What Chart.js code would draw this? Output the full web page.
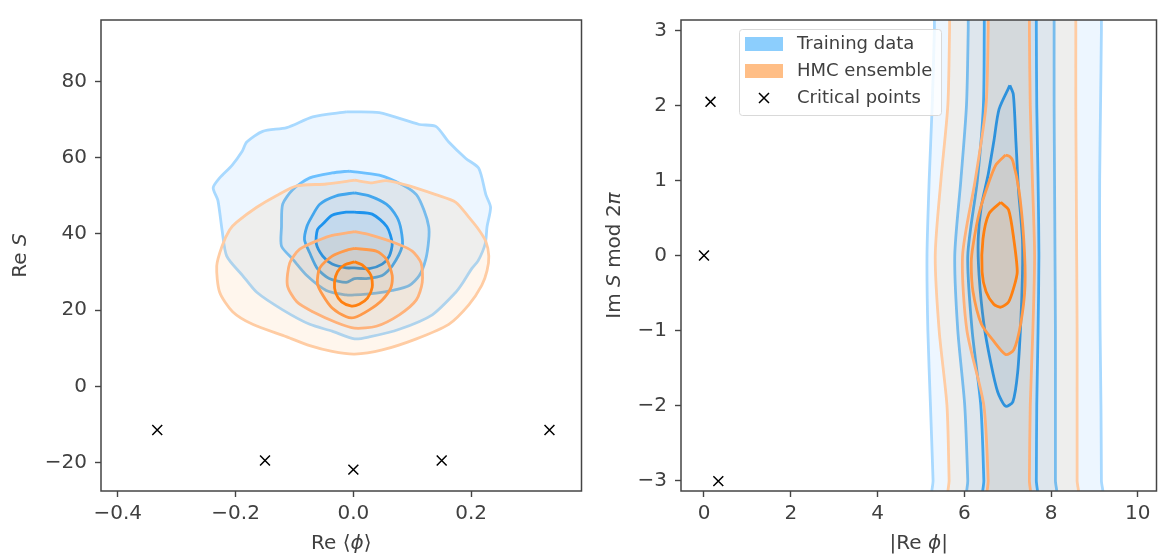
<!DOCTYPE html>
<html lang="en">
<head>
<meta charset="UTF-8">
<title>Action distributions</title>
<script src="https://cdn.jsdelivr.net/npm/chart.js"></script>
<style>
  html, body { margin: 0; padding: 0; background: #fff; }
  .panel { position: absolute; top: 0; height: 559px; }
  #leftPanel { left: 0; width: 590px; }
  #rightPanel { left: 590px; width: 575px; }
</style>
</head>
<body>
<div class="panel" id="leftPanel"><canvas id="reChart"></canvas></div>
<div class="panel" id="rightPanel"><canvas id="imChart"></canvas></div>

<script>
// ---- tick values ----
const reXTicks = [-0.4, -0.2, 0.0, 0.2];
const reYTicks = [-20, 0, 20, 40, 60, 80];
const imXTicks = [0, 2, 4, 6, 8, 10];
const imYTicks = [-3, -2, -1, 0, 1, 2, 3];

// ---- critical points ----
const critRePhi = [-0.333, -0.15, 0, 0.15, 0.333];
const critReS = [-11.4, -19.4, -21.8, -19.4, -11.4];
const critAbsPhi = [0.15, 0, 0.33];
const critImS = [2.05, 0, -3.01];

// ---- KDE levels in (Re <phi>, Re S), outermost level first ----
const trainRe1 = [[-0.012,72.0],[0.044,71.8],[0.112,68.7],[0.140,68.2],[0.162,64.1],[0.191,59.8],[0.213,57.2],[0.225,50.3],[0.233,47.0],[0.227,41.9],[0.224,37.5],[0.212,33.0],[0.201,30.9],[0.185,27.0],[0.174,24.7],[0.134,18.8],[0.078,15.0],[0.027,13.0],[0.002,12.5],[-0.036,14.5],[-0.074,16.3],[-0.120,20.1],[-0.164,24.7],[-0.188,29.1],[-0.215,34.2],[-0.223,41.1],[-0.230,48.8],[-0.238,52.1],[-0.227,54.7],[-0.206,58.0],[-0.189,61.6],[-0.181,64.1],[-0.154,66.9],[-0.113,67.9],[-0.069,70.7],[-0.012,72.0]];
const trainRe2 = [[-0.007,56.5],[0.044,55.4],[0.083,52.9],[0.107,50.3],[0.120,46.2],[0.128,41.9],[0.128,38.5],[0.123,33.4],[0.112,29.1],[0.095,26.5],[0.066,25.2],[0.039,24.5],[0.002,24.0],[-0.012,24.0],[-0.046,25.2],[-0.079,29.1],[-0.103,33.4],[-0.122,36.8],[-0.122,41.9],[-0.120,47.8],[-0.103,51.6],[-0.074,54.7],[-0.036,56.0],[-0.007,56.5]];
const trainRe3 = [[0.002,50.8],[0.027,50.0],[0.056,47.8],[0.074,44.4],[0.081,41.1],[0.083,36.8],[0.066,31.6],[0.049,29.1],[0.022,28.3],[0.002,28.3],[-0.012,27.3],[-0.041,28.3],[-0.061,30.9],[-0.074,35.0],[-0.083,38.5],[-0.079,41.9],[-0.071,44.4],[-0.057,47.8],[-0.029,50.0],[0.002,50.8]];
const trainRe4 = [[0.002,45.7],[0.032,45.2],[0.057,41.9],[0.066,37.5],[0.061,34.2],[0.049,32.1],[0.027,30.9],[0.002,31.1],[-0.012,31.1],[-0.036,32.1],[-0.052,34.2],[-0.063,37.5],[-0.061,41.1],[-0.052,42.6],[-0.036,44.9],[-0.012,45.7],[0.002,45.7]];
const hmcRe1 = [[0.002,54.1],[0.032,53.4],[0.056,54.0],[0.095,52.6],[0.140,50.3],[0.174,48.3],[0.196,44.4],[0.213,41.1],[0.225,38.0],[0.230,34.2],[0.227,30.4],[0.218,26.5],[0.196,21.4],[0.162,16.3],[0.107,12.5],[0.049,9.6],[0.002,8.5],[-0.036,9.2],[-0.074,10.7],[-0.113,13.0],[-0.171,16.3],[-0.205,19.6],[-0.227,24.7],[-0.232,31.6],[-0.223,36.8],[-0.210,41.1],[-0.198,43.1],[-0.164,47.0],[-0.130,50.1],[-0.096,52.6],[-0.046,53.1],[0.002,54.1]];
const hmcRe2 = [[0.002,40.6],[0.027,39.8],[0.073,37.5],[0.100,35.5],[0.115,32.4],[0.117,27.3],[0.107,22.7],[0.078,18.8],[0.039,15.8],[0.002,15.3],[-0.029,16.8],[-0.069,19.6],[-0.096,22.2],[-0.112,26.5],[-0.108,32.4],[-0.091,36.0],[-0.057,38.5],[-0.036,39.6],[0.002,40.6]];
const hmcRe3 = [[0.002,36.2],[0.039,35.5],[0.056,33.4],[0.066,29.1],[0.064,26.0],[0.049,22.7],[0.027,20.1],[0.002,18.1],[-0.012,18.3],[-0.036,20.6],[-0.052,24.0],[-0.061,27.0],[-0.057,31.1],[-0.036,34.2],[-0.012,35.7],[0.002,36.2]];
const hmcRe4 = [[0.002,32.7],[0.015,31.9],[0.030,29.1],[0.032,26.0],[0.024,23.2],[0.010,21.6],[-0.003,21.1],[-0.020,22.2],[-0.030,24.5],[-0.032,27.3],[-0.027,30.1],[-0.015,31.9],[0.002,32.7]];

// ---- KDE levels in (|Re phi|, Im S mod 2pi): open bands sampled at bandY ----
const bandY = [3.3, 3, 2, 1, 0, -1, -2, -3, -3.3];
const trainBand1L = [5.31, 5.31, 5.26, 5.19, 5.14, 5.16, 5.22, 5.28, 5.29];
const trainBand1R = [9.16, 9.16, 9.14, 9.12, 9.12, 9.13, 9.15, 9.16, 9.16];
const trainBand2L = [6.09, 6.09, 6.05, 5.92, 5.78, 5.85, 6.01, 6.08, 6.09];
const trainBand2R = [8.07, 8.07, 8.07, 8.08, 8.09, 8.10, 8.10, 8.10, 8.10];
const trainBand3L = [6.46, 6.46, 6.44, 6.30, 6.08, 6.18, 6.38, 6.45, 6.45];
const trainBand3R = [7.66, 7.66, 7.67, 7.70, 7.72, 7.70, 7.67, 7.66, 7.66];
const hmcBand1L = [5.66, 5.66, 5.62, 5.46, 5.33, 5.42, 5.60, 5.65, 5.66];
const hmcBand1R = [8.57, 8.57, 8.57, 8.58, 8.59, 8.60, 8.60, 8.60, 8.60];
const hmcBand2L = [6.55, 6.55, 6.50, 6.25, 5.96, 6.06, 6.45, 6.55, 6.55];
const hmcBand2R = [7.50, 7.50, 7.52, 7.57, 7.62, 7.58, 7.52, 7.50, 7.50];
// closed inner levels
const trainIm4 = [[7.05,2.27],[7.13,2.15],[7.19,1.52],[7.25,0.87],[7.34,0.22],[7.34,-0.26],[7.30,-0.91],[7.23,-1.56],[7.12,-1.95],[6.95,-2.01],[6.77,-1.82],[6.61,-1.43],[6.45,-0.91],[6.34,-0.26],[6.32,0.22],[6.39,0.65],[6.55,1.08],[6.68,1.52],[6.80,1.95],[7.05,2.27]];
const hmcIm3 = [[6.95,1.34],[7.05,1.32],[7.12,1.26],[7.26,0.87],[7.37,0.22],[7.40,-0.40],[7.30,-0.91],[7.14,-1.26],[6.95,-1.32],[6.66,-1.13],[6.39,-0.91],[6.20,-0.48],[6.16,-0.10],[6.20,0.13],[6.34,0.56],[6.55,0.95],[6.73,1.21],[6.95,1.34]];
const hmcIm4 = [[6.84,0.71],[7.02,0.61],[7.14,0.22],[7.22,-0.22],[7.14,-0.43],[7.02,-0.62],[6.84,-0.69],[6.68,-0.65],[6.50,-0.48],[6.41,-0.22],[6.43,0.22],[6.57,0.56],[6.84,0.71]];

const legendLabels = ['Training data', 'HMC ensemble', 'Critical points'];

// ---- styling ----
const FONT = '"DejaVu Sans", sans-serif';
const TEXT = '#404040';
const EDGE = '#444';
const trainLine = ['#a8d9ff', '#6cc0ff', '#33a9ff', '#0a94ff'];
const hmcLine = ['#ffcca3', '#ffb27a', '#ff9a4a', '#ff8010'];
const trainFill = 'rgba(30,144,255,0.08)';
const hmcFill = 'rgba(255,140,20,0.08)';

function contour(points, color, fill) {
    return {
        data: points.map(p => ({ x: p[0], y: p[1] })),
        borderColor: color,
        backgroundColor: fill,
        borderWidth: 2.8,
        pointRadius: 0,
        tension: 0.25,
        fill: 'shape'
    };
}

// open band: left edge top->bottom, right edge back up
function band(left, right, color, fill) {
    const pts = bandY.map((y, i) => [left[i], y])
        .concat(bandY.map((y, i) => [right[i], y]).reverse());
    return contour(pts, color, fill);
}

function crosses(xs, ys) {
    return {
        data: xs.map((x, i) => ({ x: x, y: ys[i] })),
        showLine: false,
        pointStyle: 'crossRot',
        pointRadius: 7,
        borderColor: '#000',
        borderWidth: 1.5,
        backgroundColor: '#000'
    };
}

// first dataset is drawn first, later ones on top
function stacked(list) {
    list.forEach((ds, i) => { ds.order = list.length - i; });
    return list;
}

function fmt(digits) {
    return v => Number(v).toFixed(digits).replace('-', '\u2212');
}

function axis(min, max, ticks, format, isX, size) {
    return {
        type: 'linear',
        min: min,
        max: max,
        afterBuildTicks: s => { s.ticks = ticks.map(v => ({ value: v })); },
        afterFit: s => { if (isX) s.height = size; else s.width = size; },
        grid: { display: true, drawOnChartArea: false, drawTicks: true, tickLength: 6, tickColor: EDGE, tickWidth: 1.4 },
        border: { display: false },
        ticks: { color: TEXT, font: { family: FONT, size: 20 }, padding: isX ? 5 : 8, autoSkip: false, maxRotation: 0, callback: format }
    };
}

// text pieces with some italic parts, centred on (cx, cy)
function drawRich(ctx, segs, cx, cy, size) {
    const fonts = segs.map(s => (s[1] ? 'italic ' : '') + size + 'px ' + FONT);
    const widths = segs.map((s, i) => { ctx.font = fonts[i]; return ctx.measureText(s[0]).width; });
    let x = cx - widths.reduce((a, b) => a + b, 0) / 2;
    ctx.fillStyle = TEXT;
    ctx.textAlign = 'left';
    ctx.textBaseline = 'middle';
    segs.forEach((s, i) => { ctx.font = fonts[i]; ctx.fillText(s[0], x, cy); x += widths[i]; });
}

function framePlugin(xTitle, yTitle, yTitleX) {
    return {
        id: 'frame',
        afterDraw(chart) {
            const { ctx, chartArea: a } = chart;
            ctx.save();
            ctx.strokeStyle = EDGE;
            ctx.lineWidth = 1.5;
            ctx.strokeRect(a.left, a.top, a.right - a.left, a.bottom - a.top);
            drawRich(ctx, xTitle, (a.left + a.right) / 2, a.bottom + 53, 20);
            ctx.translate(yTitleX, (a.top + a.bottom) / 2);
            ctx.rotate(-Math.PI / 2);
            drawRich(ctx, yTitle, 0, 0, 20);
            ctx.restore();
        }
    };
}

const legendPlugin = {
    id: 'boxLegend',
    afterDraw(chart) {
        const { ctx, chartArea: a } = chart;
        const x0 = a.left + 58, y0 = a.top + 9, w = 202, h = 86;
        ctx.save();
        ctx.fillStyle = 'rgba(255,255,255,0.8)';
        ctx.strokeStyle = '#d9d9d9';
        ctx.lineWidth = 1;
        ctx.beginPath();
        ctx.roundRect(x0 + 0.5, y0 + 0.5, w, h, 3);
        ctx.fill();
        ctx.stroke();
        const swatches = ['rgb(140,206,253)', 'rgb(255,190,134)'];
        legendLabels.forEach((label, i) => {
            const cy = y0 + 15 + i * 27;
            if (i < 2) {
                ctx.fillStyle = swatches[i];
                ctx.fillRect(x0 + 6, cy - 7, 38, 14);
            } else {
                ctx.strokeStyle = '#000';
                ctx.lineWidth = 1.5;
                ctx.beginPath();
                ctx.moveTo(x0 + 20, cy - 5); ctx.lineTo(x0 + 30, cy + 5);
                ctx.moveTo(x0 + 30, cy - 5); ctx.lineTo(x0 + 20, cy + 5);
                ctx.stroke();
            }
            ctx.fillStyle = TEXT;
            ctx.font = '18px ' + FONT;
            ctx.textAlign = 'left';
            ctx.textBaseline = 'middle';
            ctx.fillText(label, x0 + 58, cy);
        });
        ctx.restore();
    }
};

const common = {
    responsive: true,
    maintainAspectRatio: false,
    animation: false,
    events: [],
    plugins: { legend: { display: false }, tooltip: { enabled: false } }
};

// Re S against Re <phi>
new Chart(document.getElementById('reChart'), {
    type: 'line',
    data: {
        datasets: stacked([
            contour(trainRe1, trainLine[0], trainFill),
            contour(trainRe2, trainLine[1], trainFill),
            contour(trainRe3, trainLine[2], trainFill),
            contour(trainRe4, trainLine[3], trainFill),
            contour(hmcRe1, hmcLine[0], hmcFill),
            contour(hmcRe2, hmcLine[1], hmcFill),
            contour(hmcRe3, hmcLine[2], hmcFill),
            contour(hmcRe4, hmcLine[3], hmcFill),
            crosses(critRePhi, critReS)
        ])
    },
    options: Object.assign({}, common, {
        layout: { padding: { top: 8, right: 7, left: 0, bottom: 0 } },
        scales: {
            x: axis(-0.4285, 0.3874, reXTicks, fmt(1), true, 68),
            y: axis(-27.4, 96.1, reYTicks, fmt(0), false, 101)
        }
    }),
    plugins: [framePlugin([['Re ', false], ['\u27e8', false], ['\u03d5', true], ['\u27e9', false]],
                          [['Re ', false], ['S', true]], 21)]
});

// Im S mod 2pi against |Re phi|
new Chart(document.getElementById('imChart'), {
    type: 'line',
    data: {
        datasets: stacked([
            band(trainBand1L, trainBand1R, trainLine[0], trainFill),
            band(trainBand2L, trainBand2R, trainLine[1], trainFill),
            band(trainBand3L, trainBand3R, trainLine[2], trainFill),
            contour(trainIm4, trainLine[3], trainFill),
            band(hmcBand1L, hmcBand1R, hmcLine[0], hmcFill),
            band(hmcBand2L, hmcBand2R, hmcLine[1], hmcFill),
            contour(hmcIm3, hmcLine[2], hmcFill),
            contour(hmcIm4, hmcLine[3], hmcFill),
            crosses(critAbsPhi, critImS)
        ])
    },
    options: Object.assign({}, common, {
        layout: { padding: { top: 8, right: 2, left: 0, bottom: 0 } },
        scales: {
            x: axis(-0.53, 10.43, imXTicks, fmt(0), true, 68),
            y: axis(-Math.PI, Math.PI, imYTicks, fmt(0), false, 91)
        }
    }),
    plugins: [framePlugin([['|Re ', false], ['\u03d5', true], ['|', false]],
                          [['Im ', false], ['S', true], [' mod 2', false], ['\u03c0', true]], 25),
              legendPlugin]
});
</script>
</body>
</html>
